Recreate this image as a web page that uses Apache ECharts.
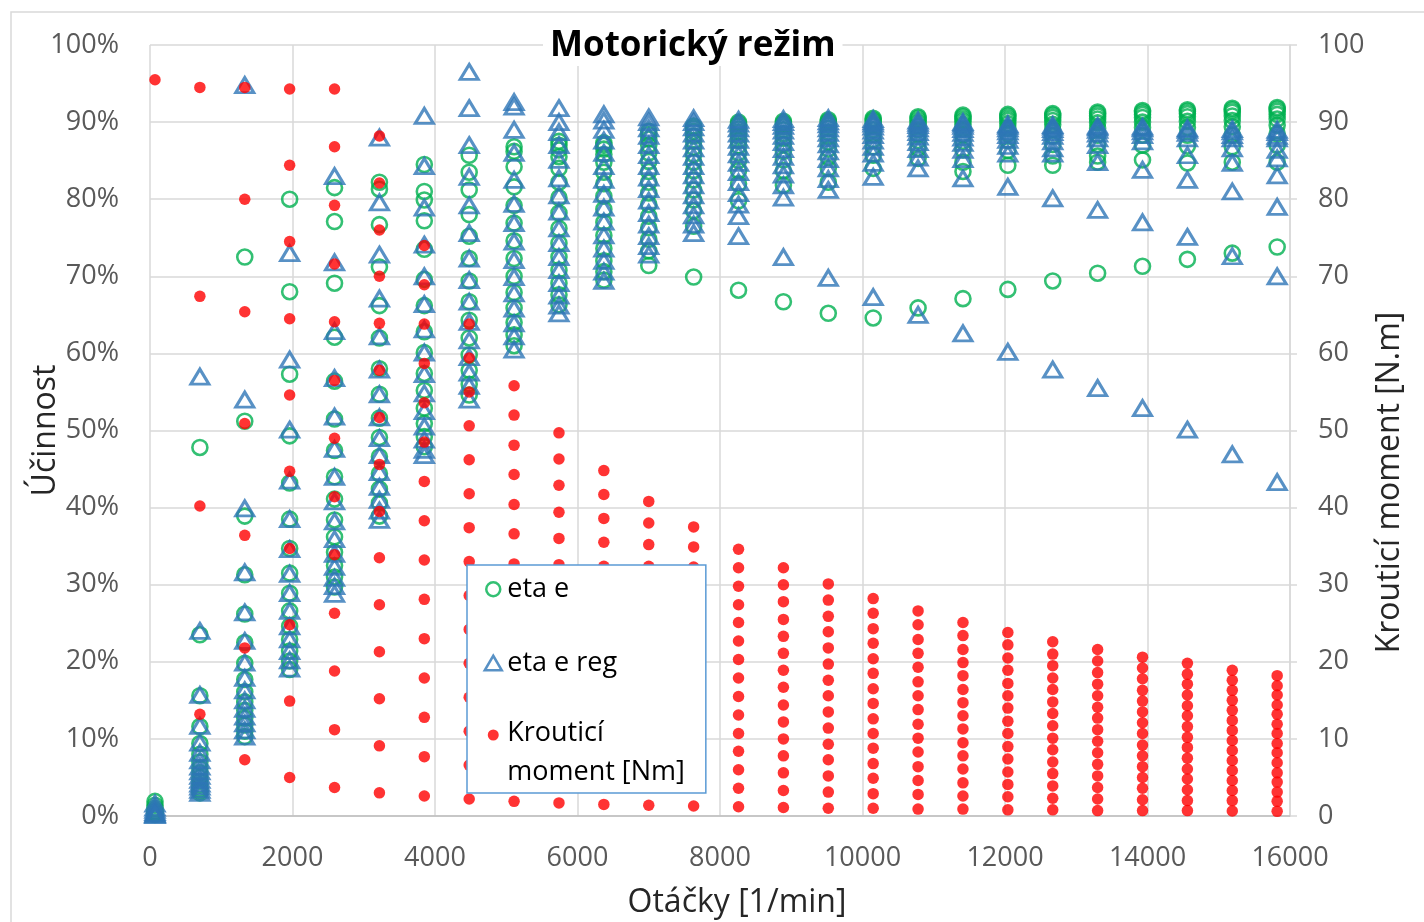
<!DOCTYPE html>
<html>
<head>
<meta charset="utf-8">
<script src="https://cdn.jsdelivr.net/npm/echarts@6/dist/echarts.min.js"></script>
<style>
  html, body { margin: 0; padding: 0; background: #fff; }
  #chart { width: 1424px; height: 922px; }
</style>
</head>
<body>
<div id="chart"></div>
<script>
// Motor speed columns [1/min]
const speedRpm = [70, 700, 1330, 1960, 2590, 3220, 3850, 4480, 5110, 5740, 6370, 7000, 7630,
  8260, 8890, 9520, 10150, 10780, 11410, 12040, 12670, 13300, 13930, 14560, 15190, 15820];

// Torque points per speed column [Nm]
const torqueNm = [
  [95.5],
  [94.5, 67.4, 40.2, 13.2],
  [94.5, 80.0, 65.4, 50.9, 36.4, 21.8, 7.3],
  [94.3, 84.4, 74.5, 64.5, 54.6, 44.7, 34.7, 24.8, 14.9, 5.0],
  [94.3, 86.8, 79.2, 71.6, 64.1, 56.5, 49.0, 41.4, 33.9, 26.3, 18.8, 11.2, 3.7],
  [88.2, 82.1, 76.0, 70.0, 63.9, 57.8, 51.7, 45.6, 39.5, 33.5, 27.4, 21.3, 15.2, 9.1, 3.0],
  [74.0, 68.9, 63.8, 58.7, 53.6, 48.5, 43.4, 38.3, 33.2, 28.1, 23.0, 17.9, 12.8, 7.7, 2.6],
  [63.8, 59.4, 55.0, 50.6, 46.2, 41.8, 37.4, 33.0, 28.6, 24.2, 19.8, 15.4, 11.0, 6.6, 2.2],
  [55.8, 52.0, 48.1, 44.3, 40.4, 36.6, 32.7, 28.9, 25.0, 21.2, 17.3, 13.5, 9.6, 5.8, 1.9],
  [49.7, 46.3, 42.9, 39.4, 36.0, 32.6, 29.1, 25.7, 22.3, 18.9, 15.4, 12.0, 8.6, 5.1, 1.7],
  [44.8, 41.7, 38.6, 35.5, 32.4, 29.4, 26.3, 23.2, 20.1, 17.0, 13.9, 10.8, 7.7, 4.6, 1.5],
  [40.8, 38.0, 35.2, 32.4, 29.5, 26.7, 23.9, 21.1, 18.3, 15.5, 12.7, 9.8, 7.0, 4.2, 1.4],
  [37.5, 34.9, 32.3, 29.7, 27.2, 24.6, 22.0, 19.4, 16.8, 14.2, 11.6, 9.1, 6.5, 3.9, 1.3],
  [34.6, 32.2, 29.8, 27.4, 25.1, 22.7, 20.3, 17.9, 15.5, 13.1, 10.7, 8.4, 6.0, 3.6, 1.2],
  [32.2, 30.0, 27.8, 25.5, 23.3, 21.1, 18.9, 16.7, 14.4, 12.2, 10.0, 7.8, 5.6, 3.3, 1.1],
  [30.1, 28.0, 25.9, 23.9, 21.8, 19.7, 17.6, 15.6, 13.5, 11.4, 9.3, 7.3, 5.2, 3.1, 1.0],
  [28.2, 26.3, 24.3, 22.4, 20.4, 18.5, 16.5, 14.6, 12.6, 10.7, 8.8, 6.8, 4.9, 2.9, 1.0],
  [26.6, 24.8, 22.9, 21.1, 19.3, 17.4, 15.6, 13.8, 11.9, 10.1, 8.3, 6.4, 4.6, 2.8, 0.9],
  [25.1, 23.4, 21.6, 19.9, 18.2, 16.4, 14.7, 13.0, 11.3, 9.5, 7.8, 6.1, 4.3, 2.6, 0.9],
  [23.8, 22.2, 20.5, 18.9, 17.2, 15.6, 14.0, 12.3, 10.7, 9.0, 7.4, 5.7, 4.1, 2.5, 0.8],
  [22.6, 21.0, 19.5, 17.9, 16.4, 14.8, 13.3, 11.7, 10.1, 8.6, 7.0, 5.5, 3.9, 2.3, 0.8],
  [21.6, 20.1, 18.6, 17.1, 15.6, 14.1, 12.7, 11.2, 9.7, 8.2, 6.7, 5.2, 3.7, 2.2, 0.7],
  [20.6, 19.2, 17.8, 16.3, 14.9, 13.5, 12.1, 10.7, 9.2, 7.8, 6.4, 5.0, 3.6, 2.1, 0.7],
  [19.8, 18.4, 17.1, 15.7, 14.3, 13.0, 11.6, 10.2, 8.9, 7.5, 6.1, 4.8, 3.4, 2.0, 0.7],
  [18.9, 17.6, 16.3, 15.0, 13.7, 12.4, 11.1, 9.8, 8.5, 7.2, 5.9, 4.6, 3.3, 2.0, 0.65],
  [18.2, 16.9, 15.7, 14.4, 13.2, 11.9, 10.7, 9.4, 8.2, 6.9, 5.6, 4.4, 3.1, 1.9, 0.6]
];

// Efficiency eta e per speed column [%]
const etaE = [
  [1.9, 1.4, 1.0, 0.7, 0.5, 0.3, 0.2],
  [47.8, 23.5, 15.6, 11.6, 9.4, 8.0, 7.0, 6.2, 5.6, 5.0, 4.5, 4.0, 3.6, 3.3, 3.0],
  [72.5, 51.2, 38.9, 31.3, 26.2, 22.5, 19.8, 17.7, 16.1, 14.8, 13.7, 12.7, 11.8, 11.0, 10.3],
  [80.0, 68.0, 57.3, 49.3, 43.2, 38.5, 34.7, 31.5, 28.9, 26.6, 24.6, 22.9, 21.4, 20.1, 19.0],
  [81.5, 77.1, 69.1, 62.1, 56.4, 51.5, 47.4, 44.0, 41.1, 38.4, 36.2, 34.2, 32.5, 31.0, 29.7],
  [82.2, 81.3, 76.7, 71.2, 66.2, 62.0, 58.0, 54.7, 51.6, 49.1, 46.6, 44.4, 42.4, 40.6, 38.9],
  [84.5, 81.0, 79.9, 77.2, 73.5, 69.6, 66.2, 62.8, 60.1, 57.4, 55.2, 52.9, 50.9, 49.2, 47.9],
  [85.7, 83.5, 81.2, 78.0, 75.2, 72.3, 69.4, 66.7, 64.3, 62.0, 59.8, 57.8, 56.0, 54.6],
  [86.8, 86.2, 84.2, 81.6, 79.2, 76.9, 74.6, 72.3, 70.0, 67.9, 65.9, 64.0, 62.4, 61.0],
  [87.5, 87.0, 86.4, 85.5, 84.0, 82.2, 80.2, 78.2, 76.2, 74.3, 72.5, 70.8, 69.1, 67.6, 66.3],
  [87.3, 87.0, 86.5, 85.8, 84.8, 83.5, 82.0, 80.4, 78.7, 77.0, 75.3, 73.6, 72.0, 70.6, 69.5],
  [88.8, 88.4, 87.8, 87.0, 86.0, 84.9, 83.6, 82.2, 80.8, 79.3, 77.8, 76.3, 74.8, 73.3, 71.4],
  [89.5, 89.2, 88.8, 88.2, 87.5, 86.7, 85.8, 84.8, 83.7, 82.5, 81.2, 79.9, 78.5, 76.5, 69.9],
  [90.0, 89.8, 89.5, 89.1, 88.7, 88.2, 87.6, 86.9, 86.0, 85.0, 83.7, 82.0, 79.8, 68.2],
  [90.1, 89.9, 89.7, 89.4, 89.0, 88.5, 87.9, 87.1, 86.2, 85.1, 83.7, 81.8, 66.7],
  [90.3, 90.1, 89.9, 89.6, 89.2, 88.7, 88.1, 87.4, 86.5, 85.4, 84.0, 82.2, 65.2],
  [90.5, 90.3, 90.1, 89.8, 89.5, 89.0, 88.4, 87.7, 86.8, 85.7, 84.0, 64.6],
  [90.7, 90.5, 90.2, 89.9, 89.5, 89.0, 88.4, 87.6, 86.6, 85.3, 65.9],
  [90.9, 90.7, 90.4, 90.1, 89.7, 89.1, 88.4, 87.5, 86.4, 84.8, 83.6, 67.1],
  [91.0, 90.8, 90.5, 90.2, 89.8, 89.2, 88.5, 87.6, 86.3, 84.4, 68.3],
  [91.1, 90.9, 90.6, 90.2, 89.7, 89.0, 88.2, 87.1, 85.6, 84.4, 69.4],
  [91.3, 91.1, 90.8, 90.4, 89.9, 89.2, 88.3, 87.1, 85.6, 84.8, 70.4],
  [91.5, 91.3, 91.0, 90.6, 90.0, 89.3, 88.3, 87.0, 85.1, 71.3],
  [91.6, 91.4, 91.1, 90.7, 90.1, 89.3, 88.3, 86.9, 84.7, 72.2],
  [91.8, 91.6, 91.3, 90.8, 90.2, 89.4, 88.3, 86.8, 84.8, 73.0],
  [91.9, 91.7, 91.4, 91.0, 90.4, 89.6, 88.5, 87.0, 84.8, 73.8]
];

// Efficiency eta e reg per speed column [%]
const etaEReg = [
  [1.6, 1.1, 0.8, 0.5, 0.3, 0.2, 0.1],
  [57.0, 24.0, 15.7, 11.7, 9.5, 8.2, 7.2, 6.4, 5.8, 5.2, 4.7, 4.2, 3.8, 3.4, 3.0],
  [94.8, 54.0, 39.9, 31.6, 26.4, 22.7, 19.9, 17.9, 16.3, 15.0, 13.9, 12.9, 12.0, 11.1, 10.3],
  [73.0, 59.2, 50.1, 43.5, 38.5, 34.6, 31.4, 28.9, 26.6, 24.6, 22.9, 21.4, 20.2, 19.1],
  [83.0, 71.8, 62.9, 56.8, 51.8, 47.6, 44.0, 40.8, 38.2, 35.9, 34.0, 32.3, 30.9, 29.8, 28.8],
  [88.0, 79.6, 72.8, 67.1, 62.2, 57.9, 54.7, 51.7, 49.0, 46.8, 44.6, 42.7, 41.0, 39.6, 38.4],
  [90.8, 84.3, 78.9, 74.1, 70.0, 66.4, 63.1, 60.1, 57.3, 54.8, 52.5, 50.5, 48.8, 47.5, 46.8],
  [96.5, 91.8, 87.0, 82.9, 79.2, 75.6, 72.3, 69.5, 66.7, 64.1, 61.7, 59.5, 57.5, 55.8, 54.0],
  [92.6, 92.0, 89.0, 86.0, 82.5, 79.4, 76.9, 74.5, 72.1, 69.9, 67.8, 65.8, 63.9, 62.2, 60.5],
  [91.8, 90.0, 88.7, 87.0, 85.1, 82.7, 80.5, 78.4, 76.2, 74.3, 72.5, 70.8, 69.1, 67.5, 66.2, 65.2],
  [91.0, 90.2, 89.0, 87.6, 86.0, 84.3, 82.5, 80.7, 78.9, 77.1, 75.3, 73.6, 72.0, 70.6, 69.4],
  [90.6, 90.0, 89.2, 88.2, 87.0, 85.7, 84.3, 82.8, 81.3, 79.8, 78.2, 76.7, 75.2, 73.9, 72.8],
  [90.5, 90.0, 89.3, 88.5, 87.6, 86.6, 85.5, 84.3, 83.1, 81.8, 80.5, 79.2, 77.9, 76.7, 75.6],
  [90.3, 89.8, 89.2, 88.5, 87.7, 86.8, 85.8, 84.7, 83.5, 82.2, 80.8, 79.3, 77.8, 75.2],
  [90.4, 90.0, 89.5, 88.9, 88.2, 87.4, 86.5, 85.5, 84.4, 83.2, 81.8, 80.2, 72.5],
  [90.5, 90.1, 89.7, 89.2, 88.6, 87.9, 87.1, 86.2, 85.2, 84.0, 82.6, 81.2, 69.8],
  [90.4, 90.1, 89.8, 89.4, 88.9, 88.3, 87.6, 86.8, 85.9, 84.7, 82.9, 67.3],
  [90.2, 89.9, 89.6, 89.2, 88.7, 88.1, 87.4, 86.5, 85.4, 84.0, 65.0],
  [90.0, 89.8, 89.5, 89.1, 88.6, 88.0, 87.3, 86.4, 85.2, 82.7, 62.6],
  [89.7, 89.5, 89.2, 88.8, 88.3, 87.7, 86.9, 85.9, 81.6, 60.2],
  [89.6, 89.4, 89.1, 88.7, 88.2, 87.5, 86.6, 85.9, 80.1, 57.9],
  [89.5, 89.3, 89.0, 88.5, 87.9, 87.0, 84.8, 78.6, 55.5],
  [89.4, 89.2, 88.8, 88.3, 87.5, 83.8, 77.0, 52.9],
  [89.2, 89.0, 88.6, 87.9, 85.7, 82.5, 75.1, 50.1],
  [89.1, 88.8, 88.3, 87.9, 86.6, 84.7, 81.0, 72.6, 46.9],
  [89.0, 88.7, 88.2, 87.9, 86.4, 85.3, 83.1, 79.0, 70.0, 43.3]
];

const seriesNames = ['eta e', 'eta e reg', 'Krouticí\nmoment [Nm]'];

// Pair every value of a column with that column's speed
function toPoints(columns) {
  const pts = [];
  columns.forEach((col, i) => col.forEach(v => pts.push([speedRpm[i], v])));
  return pts;
}

const FONT = '"Open Sans", "DejaVu Sans", sans-serif';
const GRID = '#d9d9d9';
const LABEL = '#595959';

// Legend icons: invisible frame corners keep every glyph at true size;
// the torque dot sits on the first line of its two-line label.
const FRAME_SHORT = 'M0 0L0 0M18 44L18 44';
const FRAME_TALL = 'M0 0L0 0M18 47L18 47';
const iconCircle = 'path://' + FRAME_SHORT + 'M2 22A7 7 0 1 1 16 22A7 7 0 1 1 2 22Z';
const iconTriangle = 'path://' + FRAME_SHORT + 'M9 14.5L17.5 29L0.5 29Z';
const iconDot = 'path://' + FRAME_TALL + 'M3.5 5.5A5.5 5.5 0 1 1 14.5 5.5A5.5 5.5 0 1 1 3.5 5.5Z';

const chart = echarts.init(document.getElementById('chart'), null, { renderer: 'canvas' });

chart.setOption({
  animation: false,
  backgroundColor: '#fff',
  textStyle: { fontFamily: FONT },
  graphic: [{
    type: 'rect', silent: true, z: -10,
    shape: { x: 11, y: 12, width: 1500, height: 1000 },
    style: { fill: 'none', stroke: GRID, lineWidth: 1.5 }
  }],
  title: {
    text: 'Motorický režim',
    left: 543, top: 27,
    padding: [2, 7],
    backgroundColor: '#fff',
    textStyle: { fontFamily: FONT, fontSize: 35, fontWeight: 'bold', color: '#000' }
  },
  grid: { left: 150, right: 134, top: 45, bottom: 106, containLabel: false, outerBoundsMode: 'none' },
  legend: {
    orient: 'vertical',
    left: 467, top: 565,
    padding: [1, 21, 1, 16],
    itemGap: 27.5,
    itemWidth: 18, itemHeight: 47,
    symbolKeepAspect: true,
    backgroundColor: '#fff',
    borderColor: '#5b9bd5', borderWidth: 1.5, borderRadius: 0,
    textStyle: { fontFamily: FONT, fontSize: 27, color: '#000', lineHeight: 39 },
    data: [
      { name: seriesNames[0], icon: iconCircle, itemStyle: { borderWidth: 2.5 } },
      { name: seriesNames[1], icon: iconTriangle, itemStyle: { borderWidth: 2.5 } },
      { name: seriesNames[2], icon: iconDot }
    ]
  },
  xAxis: {
    type: 'value', min: 0, max: 16000, interval: 2000,
    name: 'Otáčky [1/min]', nameLocation: 'middle', nameGap: 71, nameMoveOverlap: false,
    nameTextStyle: { fontFamily: FONT, fontSize: 32, color: '#262626', padding: [0, 0, 0, 34] },
    axisLine: { show: true, lineStyle: { color: '#bfbfbf', width: 1.5 } },
    axisTick: { show: false },
    axisLabel: { fontFamily: FONT, fontSize: 27, color: LABEL, margin: 29, formatter: v => String(v) },
    splitLine: { show: true, lineStyle: { color: GRID, width: 1.5 } }
  },
  yAxis: [
    {
      type: 'value', min: 0, max: 100, interval: 10, position: 'left',
      name: 'Účinnost', nameLocation: 'middle', nameRotate: 90, nameGap: 88, nameMoveOverlap: false,
      nameTextStyle: { fontFamily: FONT, fontSize: 32, color: '#262626' },
      axisLine: { show: false },
      axisTick: { show: false },
      axisLabel: { fontFamily: FONT, fontSize: 27, color: LABEL, margin: 31, formatter: '{value}%' },
      splitLine: { show: true, lineStyle: { color: GRID, width: 1.5 } }
    },
    {
      type: 'value', min: 0, max: 100, interval: 10, position: 'right',
      name: 'Krouticí moment [N.m]', nameLocation: 'middle', nameRotate: 90, nameGap: 84,
      nameMoveOverlap: false,
      nameTextStyle: { fontFamily: FONT, fontSize: 32, color: '#262626', padding: [0, 104, 0, 0] },
      axisLine: { show: true, lineStyle: { color: GRID, width: 1.5 } },
      axisTick: { show: true, inside: false, length: 7, lineStyle: { color: GRID, width: 1.5 } },
      axisLabel: { fontFamily: FONT, fontSize: 27, color: LABEL, margin: 28 },
      splitLine: { show: false }
    }
  ],
  series: [
    {
      name: seriesNames[0], type: 'scatter', yAxisIndex: 0,
      symbol: 'circle', symbolSize: 15,
      itemStyle: { color: 'rgba(0,0,0,0)', borderColor: '#00b050', borderWidth: 2.6 },
      data: toPoints(etaE)
    },
    {
      name: seriesNames[1], type: 'scatter', yAxisIndex: 0,
      symbol: 'triangle', symbolSize: [18, 15],
      itemStyle: { color: 'rgba(0,0,0,0)', borderColor: '#2e75b6', borderWidth: 3 },
      data: toPoints(etaEReg)
    },
    {
      name: seriesNames[2], type: 'scatter', yAxisIndex: 1,
      symbol: 'circle', symbolSize: 11.5,
      itemStyle: { color: '#ff0000' },
      data: toPoints(torqueNm)
    }
  ]
});
</script>
</body>
</html>
